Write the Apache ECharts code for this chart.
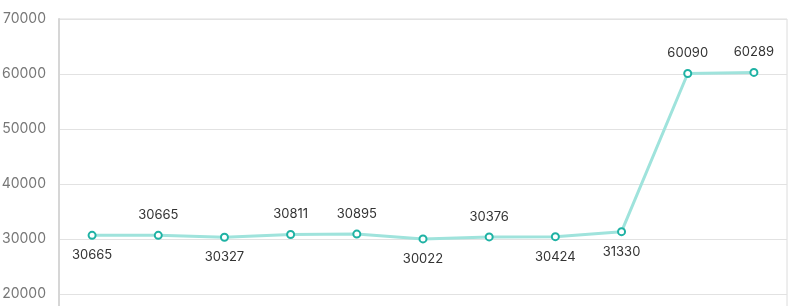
<!DOCTYPE html>
<html><head><meta charset="utf-8">
<script src="https://cdn.jsdelivr.net/npm/echarts@6/dist/echarts.min.js"></script>
<style>html,body{margin:0;padding:0;background:#fff}#c{width:800px;height:306px}</style>
</head><body><div id="c"></div>
<script>
var categories = ['1','2','3','4','5','6','7','8','9','10','11'];
var values = [30665, 30665, 30327, 30811, 30895, 30022, 30376, 30424, 31330, 60090, 60289];
var labelPositions = ['bottom','top','bottom','top','top','bottom','top','bottom','bottom','top','top'];
var yTicks = [10000, 20000, 30000, 40000, 50000, 60000, 70000];

var chart = echarts.init(document.getElementById('c'));
chart.setOption({
  animation: false,
  grid: { left: 59, right: 13, top: 19, height: 330, show: true, borderColor: '#dcdcdc', borderWidth: 1,
          containLabel: false, outerBoundsMode: 'none' },
  xAxis: {
    type: 'category', data: categories, boundaryGap: true,
    axisLine: { show: false }, axisTick: { show: false }, axisLabel: { show: false }
  },
  yAxis: {
    type: 'value', min: yTicks[0], max: yTicks[yTicks.length - 1], interval: 10000,
    axisLine: { show: true, lineStyle: { color: '#d6d6d6', width: 2 } },
    axisTick: { show: false },
    axisLabel: { color: '#777', fontSize: 14, fontFamily: 'Inter', margin: 13,
                 formatter: function (v) { return String(v); } },
    splitLine: { lineStyle: { color: '#e2e2e2', width: 1 } }
  },
  series: [{
    type: 'line',
    data: values.map(function (v, i) {
      return { value: v, label: { position: labelPositions[i] } };
    }),
    symbol: 'circle', symbolSize: 7,
    lineStyle: { color: '#9fe3dc', width: 3 },
    itemStyle: { color: '#ffffff', borderColor: '#1fb2a4', borderWidth: 2 },
    label: { show: true, color: '#333', fontSize: 13, fontFamily: 'Inter', distance: 9 }
  }]
});
</script></body></html>
